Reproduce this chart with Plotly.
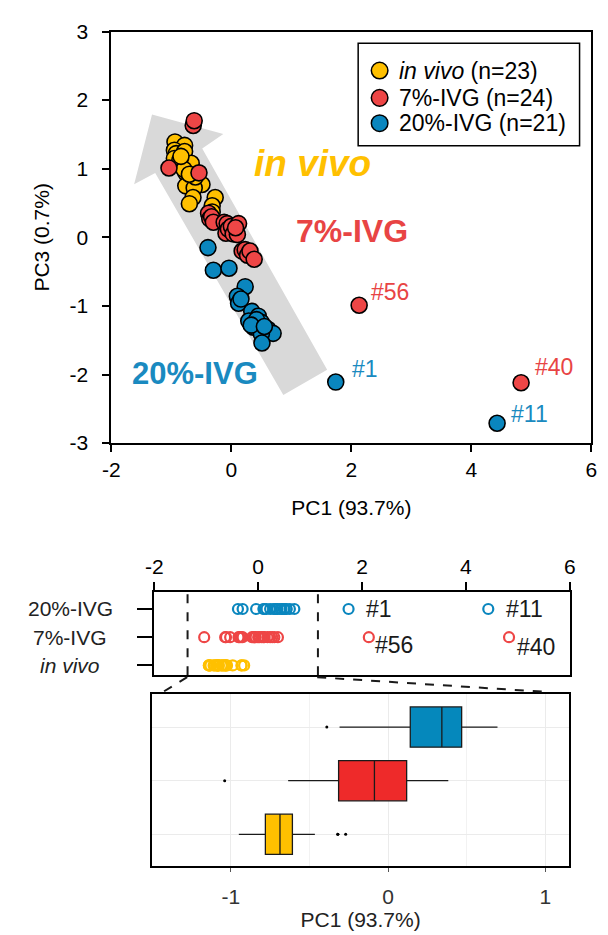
import plotly.graph_objects as go

W, H = 608, 935
FONT = "Liberation Sans, Arial, sans-serif"

# ---- PCA scores (PC1, PC3) per group ----
invivo_pc1 = [-0.94, -0.78, -0.95, -0.92, -0.78, -0.95, -0.81, -0.67, -0.76, -0.63, -0.49, -0.76,
              -0.62, -0.64, -0.70, -0.27, -0.32, -0.32, -0.86, -0.79, -0.60, -0.84, -0.70]
invivo_pc3 = [1.39, 1.34, 1.27, 1.22, 1.25, 1.15, 1.06, 1.08, 0.94, 0.84, 0.77, 0.75,
              0.72, 0.58, 0.49, 0.58, 0.46, 0.37, 1.12, 0.99, 0.88, 1.18, 0.92]

ivg7_pc1 = [-1.04, -0.636, -0.62, -0.54, -0.38, -0.36, -0.33, -0.30, -0.12, -0.07, -0.09, -0.05,
            0.00, 0.03, 0.10, 0.12, 0.07, 0.18, 0.23, 0.27, 0.31, 0.38, 2.13, 4.83]
ivg7_pc3 = [1.01, 1.63, 1.70, 0.94, 0.35, 0.27, 0.30, 0.22, 0.22, 0.20, 0.06, 0.12,
            0.16, 0.05, 0.04, 0.20, 0.14, -0.20, -0.18, -0.26, -0.20, -0.32, -0.99, -2.12]

ivg20_pc1 = [-0.39, -0.30, -0.04, 0.23, 0.10, 0.12, 0.34, 0.45, 0.29, 0.50, 0.37, 0.61,
             0.696, 0.50, 0.51, 0.16, 0.42, 0.33, 0.55, 1.74, 4.43]
ivg20_pc3 = [-0.15, -0.48, -0.45, -0.72, -0.86, -0.96, -1.08, -1.15, -1.22, -1.24, -1.31, -1.34,
             -1.40, -1.41, -1.54, -0.90, -1.20, -1.28, -1.30, -2.11, -2.71]

# labelled samples: (text, PC1, PC3)
labels_red = [("#56", 2.13, -0.99), ("#40", 4.83, -2.12)]
labels_blue = [("#1", 1.74, -2.11), ("#11", 4.43, -2.71)]

# ---- box statistics of PC1 (in vivo, 7%-IVG, 20%-IVG) ----
box_q1 = [-0.781, -0.315, 0.141]
box_median = [-0.688, -0.087, 0.342]
box_q3 = [-0.609, 0.118, 0.468]
box_lo = [-0.95, -0.636, -0.309]
box_hi = [-0.466, 0.383, 0.696]

group_names = ["in vivo", "7%-IVG", "20%-IVG"]
legend_names = ["<i>in vivo</i> (n=23)", "7%-IVG (n=24)", "20%-IVG (n=21)"]
strip_names = ["<i>in vivo</i>", "7%-IVG", "20%-IVG"]
pc1_sets = [invivo_pc1, ivg7_pc1, ivg20_pc1]
pc3_sets = [invivo_pc3, ivg7_pc3, ivg20_pc3]

pt_colors = ["#FFC000", "#EE4646", "#0A86BE"]
box_colors = ["#FFC000", "#EE2A2A", "#0588BC"]
txt_colors = ["#FFC000", "#E84444", "#1A8AC0"]

top_x_ticks = [-2, 0, 2, 4, 6]
top_y_ticks = [-3, -2, -1, 0, 1, 2, 3]
box_x_ticks = [-1, 0, 1]


def px_x(p):
    return p / W


def px_y(p):
    return 1 - p / H


def tick_text(vals):
    return [str(v) for v in vals]


fig = go.Figure()

# ---- top: PC1 vs PC3 scatter ----
for name, xs, ys, c in zip(group_names, pc1_sets, pc3_sets, pt_colors):
    fig.add_trace(go.Scatter(
        x=xs, y=ys, mode="markers", name=name, showlegend=False,
        marker=dict(size=16, color=c, line=dict(color="black", width=1.6)),
        xaxis="x", yaxis="y"))

# ---- middle: PC1 strip ----
for i, (xs, c) in enumerate(zip(pc1_sets, pt_colors)):
    fig.add_trace(go.Scatter(
        x=xs, y=[i] * len(xs), mode="markers", showlegend=False,
        marker=dict(size=10, color="rgba(0,0,0,0)", line=dict(color=c, width=2.2)),
        xaxis="x2", yaxis="y2"))

# ---- bottom: PC1 box plots ----
for i in range(3):
    fig.add_trace(go.Box(
        y=[i], q1=[box_q1[i]], median=[box_median[i]], q3=[box_q3[i]],
        lowerfence=[box_lo[i]], upperfence=[box_hi[i]],
        orientation="h", width=0.75, whiskerwidth=0, boxpoints=False,
        fillcolor=box_colors[i], line=dict(color="#1a1a1a", width=1.3),
        showlegend=False, xaxis="x3", yaxis="y3"))
    outs = [v for v in pc1_sets[i] if v < box_lo[i] or v > box_hi[i]]
    fig.add_trace(go.Scatter(
        x=outs, y=[i] * len(outs), mode="markers", showlegend=False,
        marker=dict(size=3, color="black"), xaxis="x3", yaxis="y3"))

# ---- arrow behind the scatter (PC1, PC3 coordinates) ----
arrow_x = [-1.323, -0.134, -0.486, 1.597, 0.866, -1.270, -1.621]
arrow_y = [1.792, 1.507, 1.294, -1.929, -2.299, 0.938, 0.772]
path = "M " + " L ".join(f"{a},{b}" for a, b in zip(arrow_x, arrow_y)) + " Z"
fig.add_shape(type="path", path=path, xref="x", yref="y", fillcolor="#D9D9D9",
              line=dict(width=0), layer="below")

# ---- group labels in the scatter ----
fig.add_annotation(x=1.354, y=1.08, xref="x", yref="y", text="<b><i>in vivo</i></b>",
                   showarrow=False, font=dict(size=37, color=txt_colors[0], family=FONT))
fig.add_annotation(x=2.008, y=0.09, xref="x", yref="y", text="<b>7%-IVG</b>",
                   showarrow=False, font=dict(size=32, color=txt_colors[1], family=FONT))
fig.add_annotation(x=-0.60, y=-1.99, xref="x", yref="y", text="<b>20%-IVG</b>",
                   showarrow=False, font=dict(size=31, color=txt_colors[2], family=FONT))

# sample labels in the scatter
top_label_pos = {"#56": (2.30, -0.80), "#1": (1.97, -1.92), "#40": (5.03, -1.89), "#11": (4.63, -2.57)}
for lst, col in ((labels_red, txt_colors[1]), (labels_blue, txt_colors[2])):
    for t, _, _ in lst:
        lx, ly = top_label_pos[t]
        fig.add_annotation(x=lx, y=ly, xref="x", yref="y", text=t, showarrow=False,
                           xanchor="left", font=dict(size=23, color=col, family=FONT))

# ---- legend box ----
fig.add_shape(type="rect", xref="paper", yref="paper",
              x0=px_x(358), x1=px_x(585), y0=px_y(137), y1=px_y(32),
              line=dict(color="black", width=1.5), fillcolor="white")
legend_rows = [60, 88, 114]
r = 8.5
for lab, c, yy in zip(legend_names, pt_colors, legend_rows):
    fig.add_shape(type="circle", xref="paper", yref="paper",
                  x0=px_x(380 - r), x1=px_x(380 + r), y0=px_y(yy + r), y1=px_y(yy - r),
                  fillcolor=c, line=dict(color="black", width=1.5))
    fig.add_annotation(x=px_x(398), y=px_y(yy), xref="paper", yref="paper", text=lab,
                       showarrow=False, xanchor="left", yanchor="middle",
                       font=dict(size=23, color="black", family=FONT))

# ---- strip row labels ----
strip_label_y = [670, 641, 612]
for lab, yy in zip(strip_names, strip_label_y):
    fig.add_annotation(x=px_x(63), y=px_y(yy), xref="paper", yref="paper", text=lab,
                       showarrow=False, xanchor="center", yanchor="middle",
                       font=dict(size=21, color="#222", family=FONT))

# sample labels in the strip
strip_label_pos = {"#1": (2.03, 2), "#11": (4.73, 2), "#56": (2.22, 0.72), "#40": (4.94, 0.64)}
for t, (lx, ly) in strip_label_pos.items():
    fig.add_annotation(x=lx, y=ly, xref="x2", yref="y2", text=t, showarrow=False,
                       xanchor="left", font=dict(size=23, color="#1a1a1a", family=FONT))

# zoom window in the strip
for xv in (-1.36, 1.15):
    fig.add_shape(type="line", x0=xv, x1=xv, y0=-0.35, y1=2.59, xref="x2", yref="y2",
                  line=dict(color="#1a1a1a", width=2, dash="dash"))
# connectors from the strip window to the box panel
for (a, b), (c, d) in (((182.7, 682), (158, 697)), ((316, 682), (550, 697))):
    fig.add_shape(type="line", x0=px_x(a), y0=px_y(b), x1=px_x(c), y1=px_y(d),
                  xref="paper", yref="paper",
                  line=dict(color="#1a1a1a", width=2, dash="dash"))

axis_common = dict(showline=True, linecolor="black", linewidth=2, mirror=True,
                   ticks="outside", tickcolor="black", tickwidth=1.5, showgrid=False,
                   zeroline=False)

fig.update_layout(
    width=W, height=H, margin=dict(l=0, r=0, t=0, b=0),
    paper_bgcolor="white", plot_bgcolor="white",
    font=dict(family=FONT, size=21, color="black"),
    xaxis=dict(domain=[px_x(105), px_x(597)], range=[-2, 6], tickvals=top_x_ticks,
               ticktext=tick_text(top_x_ticks), ticklen=7, anchor="y",
               tickfont=dict(size=21),
               title=dict(text="PC1 (93.7%)", font=dict(size=21), standoff=20),
               **axis_common),
    yaxis=dict(domain=[px_y(442), px_y(20)], range=[-3, 3], tickvals=top_y_ticks,
               ticktext=tick_text(top_y_ticks), ticklen=7, anchor="x",
               tickfont=dict(size=21), ticklabelstandoff=10,
               title=dict(text="PC3 (0.7%)", font=dict(size=21), standoff=14),
               **axis_common),
    xaxis2=dict(domain=[px_x(149), px_x(575)], range=[-2, 6], tickvals=top_x_ticks,
                ticktext=tick_text(top_x_ticks), side="top", ticklen=8, anchor="y2",
                tickfont=dict(size=21), **axis_common),
    yaxis2=dict(domain=[px_y(680), px_y(595)], range=[-0.35, 2.59], tickvals=[0, 1, 2],
                showticklabels=False, ticklen=15, anchor="x2", **axis_common),
    xaxis3=dict(domain=[px_x(147), px_x(574)], range=[-1.5, 1.15], tickvals=box_x_ticks,
                ticktext=tick_text(box_x_ticks),
                anchor="y3", showline=True, linecolor="black", linewidth=2, mirror=True,
                ticks="outside", ticklen=4, tickcolor="#555", showgrid=True,
                gridcolor="#EBEBEB", gridwidth=1, zeroline=False,
                minor=dict(tickvals=[-0.5, 0.5], showgrid=True, gridcolor="#F2F2F2", ticks=""),
                tickfont=dict(size=21, color="#333"), ticklabelstandoff=6,
                title=dict(text="PC1 (93.7%)", font=dict(size=21, color="#222"), standoff=4)),
    yaxis3=dict(domain=[px_y(876), px_y(699)], range=[-0.6, 2.62], tickvals=[0, 1, 2],
                anchor="x3", showticklabels=False, showline=True, linecolor="black",
                linewidth=2, mirror=True, ticks="", showgrid=True, gridcolor="#EBEBEB",
                zeroline=False),
    showlegend=False,
)

fig.write_html("out.html")
